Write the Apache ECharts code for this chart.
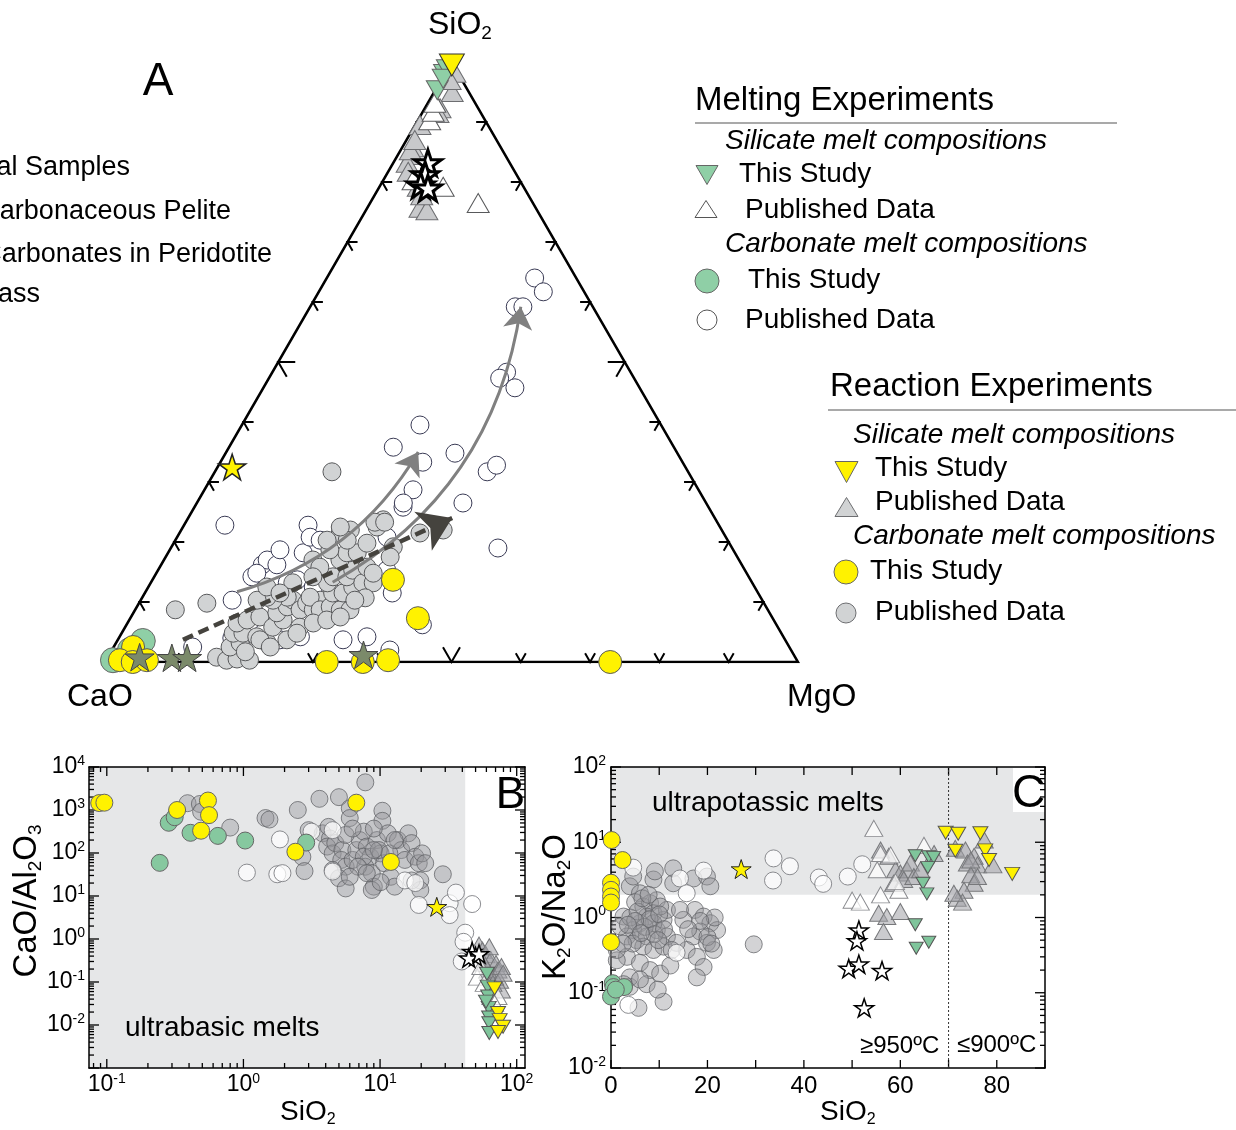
<!DOCTYPE html>
<html>
<head>
<meta charset="utf-8">
<title>Melt compositions</title>
<script src="https://cdn.jsdelivr.net/npm/echarts@6.0.0/dist/echarts.min.js"></script>
<style>
  html, body { margin: 0; padding: 0; background: #ffffff; }
  #chart { width: 1236px; height: 1130px; }
</style>
</head>
<body>
<div id="chart"></div>
<script>
// ===== Panel A: SiO2–CaO–MgO ternary, every point is [SiO2, CaO, MgO] (wt%) =====
// Melting experiments, carbonate melts, published data (open circles)
const ternMeltCarbPublished = [
  [22.8,71.3,5.9],[10.3,76.5,13.2],[4.0,79.7,16.3],[4.2,78.0,17.8],[14.2,71.7,14.1],[16.2,69.2,14.6],[17.0,68.1,14.9],[16.2,67.1,16.7],[18.7,65.4,15.9],[14.8,70.7,14.5],
  [13.2,67.1,19.7],[13.7,65.4,20.9],[18.2,62.3,19.5],[22.8,59.3,17.9],[20.8,60.0,19.2],[12.5,63.7,23.8],[4.8,74.8,20.4],[4.2,69.7,26.1],[3.7,63.8,32.5],[4.2,60.1,35.7],
  [2.0,57.9,40.1],[20.8,48.9,30.3],[15.3,51.7,33.0],[25.8,44.1,30.1],[11.5,52.8,35.7],[6.2,51.1,42.7],[2.5,86.1,11.4],[64.0,6.0,30.0],[61.7,5.9,32.4],[59.2,11.2,29.6],
  [59.2,10.1,30.7],[48.3,17.9,33.8],[47.3,19.4,33.3],[45.7,18.0,36.3],[39.5,34.8,25.7],[35.8,40.5,23.7],[33.3,37.5,29.2],[34.8,32.1,33.1],[31.7,29.0,39.3],[32.8,27.1,40.1],
  [28.7,41.2,30.1],[26.5,43.7,29.8],[26.5,35.1,38.4],[19.0,33.8,47.2],[3.7,72.9,23.4],[20.3,58.8,20.9]
];
// Reaction experiments, carbonate melts, published data (grey circles)
const ternRxnCarbPublished = [
  [8.7,85.5,5.8],[9.8,80.4,9.8],[0.8,83.5,15.7],[0.3,82.3,17.4],[0.5,80.7,18.8],[2.5,80.7,16.8],[3.2,78.9,17.9],[4.8,79.1,16.1],[4.8,77.7,17.5],[6.5,77.7,15.8],
  [7.0,76.0,17.0],[7.5,73.9,18.6],[4.2,76.0,19.8],[3.2,75.0,21.8],[5.8,72.9,21.3],[7.0,70.8,22.2],[8.2,71.1,20.7],[9.2,69.1,21.7],[10.3,67.7,22.0],[8.7,67.5,23.8],
  [9.8,66.0,24.2],[8.7,65.6,25.7],[10.3,63.8,25.9],[5.8,69.0,25.2],[10.8,65.0,24.2],[8.7,64.6,26.7],[9.2,62.9,27.9],[8.7,61.7,29.6],[8.7,60.3,31.0],[11.5,61.4,27.1],
  [11.5,59.9,28.6],[12.5,58.0,29.5],[13.2,61.3,25.5],[14.2,60.0,25.8],[14.2,58.0,27.8],[15.3,56.6,28.1],[13.2,56.2,30.6],[13.2,54.7,32.1],[15.8,54.3,29.9],[17.0,57.6,25.4],
  [18.2,56.0,25.8],[18.2,54.5,27.3],[18.7,58.2,23.1],[21.5,55.3,23.2],[22.0,53.6,24.4],[20.3,57.8,21.9],[19.8,52.3,27.9],[22.5,49.5,28.0],[23.7,48.0,28.3],[19.2,48.8,32.0],
  [17.5,50.1,32.4],[17.0,61.5,21.5],[15.8,61.1,23.1],[14.2,62.9,22.9],[13.2,66.3,20.5],[10.8,68.3,20.9],[10.3,70.6,19.1],[10.8,71.2,18.0],[10.3,72.9,16.8],[12.5,70.4,17.1],
  [11.5,69.0,19.5],[3.7,75.8,20.5],[2.5,74.9,22.6],[3.7,71.9,24.4],[4.8,69.9,25.3],[6.5,66.7,26.8],[7.0,64.5,28.5],[7.5,62.3,30.2],[14.8,53.9,31.3],[22.0,40.2,37.8],
  [21.5,43.8,34.7],[20.3,54.9,24.8],[31.7,51.4,16.9],[22.5,54.8,22.7],[23.3,49.4,27.3],[23.3,48.0,28.7],[0.3,79.0,20.7],[1.7,78.9,19.4],[10.7,57.1,32.2],[10.3,58.8,30.9]
];
// Reaction experiments, carbonate melts, this study (yellow circles)
const ternRxnCarbThisStudy = [
  [2.5,94.7,2.8],[0.3,97.7,2.0],[0.0,96.0,4.0],[0.3,93.8,5.9],[13.7,51.6,34.7],[7.3,51.2,41.5],[0.0,68.0,32.0],[0.0,62.8,37.2],[0.3,59.0,40.7],[0.0,27.1,72.9]
];
// Melting experiments, carbonate melts, this study (green circles)
const ternMeltCarbThisStudy = [[0.3,98.7,1.0],[3.5,92.8,3.7],[2.0,95.4,2.6]];
// Silicate melts near the SiO2 apex
const ternRxnSilPublished = [
  [99.0,0.8,0.2],[98.2,0.4,1.4],[95.0,2.4,2.6],[92.3,5.5,2.2],[89.5,9.8,0.7],[85.8,12.7,1.5],[84.5,13.5,2.0],[83.2,14.8,2.0],[81.7,15.4,2.9],
  [79.2,15.2,5.6],[75.8,16.2,8.0],[75.7,16.7,7.6],[75.3,15.9,8.8],[91.5,6.2,2.3],[97.0,1.7,1.3],[85.3,13.3,1.4],[77.8,15.4,6.8],[87.0,11.8,1.2]
];
const ternMeltSilPublished = [[90.3,8.0,1.7],[91.7,6.8,1.5],[93.2,5.8,1.0],[79.2,11.6,9.2],[76.5,7.9,15.6],[80.3,15.4,4.3]];
const ternMeltSilThisStudy = [[95.3,4.4,0.3],[98.0,2.0,0.0],[98.8,1.2,0.0],[97.2,2.6,0.2]];
const ternRxnSilThisStudy = [[99.5,0.2,0.3]];
// Natural samples
const ternPelite = [[83.2,11.8,5.0],[81.2,13.2,5.6],[79.5,14.7,5.8],[79.0,13.9,7.1]];
const ternPeridotite = [[0.8,94.6,4.6],[0.7,90.0,9.3],[0.7,87.8,11.5],[1.2,62.1,36.7]];
const ternGlass = [[32.5,65.4,2.1]];
// Trend arrows (start, tip) in [SiO2, CaO, MgO]
const trendSolidA = [[11.7,75.1,13.2],[35.0,37.3,27.7]];
const trendSolidB = [[13.3,60.5,26.2],[59.2,10.4,30.4]];
const trendDashed = [[3.7,86.9,9.4],[24.0,37.9,38.1]];
const ternTickSteps = [10,20,30,40,50,60,70,80,90];

// ===== Panel B: CaO/Al2O3 vs SiO2 (log–log), points are [SiO2, CaO/Al2O3] =====
const bRxnCarbPublished = [
  [7.8,4400],[3.6,1820],[5.0,1990],[6.0,1100],[6.0,650],[2.5,1000],[1.45,650],[1.55,600],[0.39,1440],[0.48,1380],[0.49,910],[0.8,390],[10.4,960],[10.4,560],
  [28.8,32],[2.7,81],[2.8,38],[3.8,287],[4.3,218],[4.1,141],[4.5,98],[4.7,170],[5.3,117],[5.2,69],[5.6,48],[5.0,26],[5.6,15],[6.3,69],[6.7,117],[7.1,200],
  [7.6,314],[8.0,141],[8.5,82],[7.8,48],[8.7,34],[9.0,16.5],[8.7,13.8],[9.5,200],[10.1,98],[10.7,58],[11.4,287],[12.0,28],[12.8,16.5],[13.5,200],[14.3,117],
  [15.2,69],[16.1,287],[17.0,170],[18.1,82],[19.2,58],[20.3,98],[21.4,58],[19.7,23],[19.7,13.8],[17.0,23],[5.6,263],[6.3,370],[9.0,370],[9.8,117],[7.6,82],
  [6.9,48],[11.7,98],[12.8,200],[4.5,40],[6.0,28],[10.1,21],[3.0,340],[4.2,405],[9.0,117],[8.0,34]
];
const bMeltCarbPublished = [
  [1.06,35],[1.77,32],[1.93,34],[1.85,207],[3.15,314],[4.5,340],[19.2,6.2],[32.3,6.8],[35.9,12],[32.3,3.6],[47.2,6.5],[42,1.4],[40.8,0.86],[39.6,0.30],
  [4.5,37],[15.2,23],[18.1,20]
];
const bRxnCarbThisStudy = [[0.088,1450],[0.096,1480],[0.327,1000],[0.55,1660],[0.56,760],[0.49,330],[2.4,107],[6.7,1480],[12.0,62]];
const bMeltCarbThisStudy = [[0.244,59],[0.284,505],[0.314,680],[0.41,295],[0.65,250],[1.03,195],[2.88,175]];
const bGlass = [[26,5.6]];
const bPelite = [[47.2,0.51],[50,0.39],[44.6,0.36],[53,0.45]];
const bRxnSilPublished = [[53,0.72],[56.2,0.55],[59.6,0.43],[64.7,0.33],[70.5,0.27],[73,0.19],[75,0.11],[77.3,0.065],[68.9,0.13],[61.3,0.19],[57.8,0.27],[67,0.093],[77.3,0.23],[79.5,0.16],[63,0.66]];
const bMeltSilPublished = [[51.5,0.13],[57.8,0.093],[64.7,0.046],[54.6,0.23],[73,0.046],[68.9,0.032]];
const bMeltSilThisStudy = [[60.6,0.155],[61.3,0.078],[61.8,0.046],[62.4,0.025],[62.8,0.015],[63,0.011],[63,0.0065],[59.6,0.035]];
const bRxnSilThisStudy = [[68.9,0.071],[73,0.019],[75,0.013],[79.5,0.0091],[73,0.0069]];
const bSiO2Range = [0.0741, 115];
const bRatioRange = [0.001, 10000];
const bHiddenExponents = [-3];
const ultrabasicMaxSiO2 = 42;

// ===== Panel C: K2O/Na2O vs SiO2, points are [SiO2, K2O/Na2O] =====
const cRxnCarbPublished = [
  [3.9,2.6],[6.0,2.1],[5.0,1.6],[6.7,1.4],[8.1,1.55],[9.5,1.7],[8.8,1.14],[7.4,1.03],[6.0,0.84],[4.6,0.68],[3.3,0.56],[5.3,0.50],[7.4,0.56],[9.5,0.68],
  [10.9,0.93],[11.6,1.26],[10.2,1.4],[8.8,0.84],[6.7,0.41],[8.8,0.37],[10.9,0.41],[11.6,0.56],[3.3,0.30],[1.2,0.27],[1.2,0.37],[6.0,0.25],[8.1,0.20],
  [10.2,0.18],[7.4,0.13],[3.9,0.12],[5.7,0.063],[10.9,0.076],[12.3,0.23],[8.8,3.2],[9.1,4.1],[12.9,4.5],[17.1,3.3],[19.9,3.5],[20.6,2.6],[17.4,1.26],
  [19.2,1.03],[20.6,0.84],[22.0,0.68],[18.5,0.65],[17.1,0.56],[19.9,0.46],[21.3,0.37],[15.7,0.37],[17.8,0.30],[19.2,0.22],[15.0,0.93],[14.3,1.26],[13.6,0.46],
  [12.6,0.37],[17.8,0.16],[29.6,0.44],[2.6,1.03],[1.9,0.76],[3.9,0.16],[2.6,0.13],[6.0,0.15],[9.7,0.11],[12.9,2.85],[4.6,3.5],
  [4.0,1.0],[5.5,1.2],[7.0,0.75],[8.0,0.95],[9.0,0.6],[6.5,1.8],[7.8,2.0],[5.0,0.9],[3.5,0.8],[10.0,1.1],[11.0,0.7],[4.5,0.45],[6.2,0.62],[2.5,0.45],
  [9.8,0.5],[20.0,0.55],[21.5,1.0],[18.5,0.9],[16.0,0.7],[20.8,0.45]
];
const cMeltCarbPublished = [[4.6,4.6],[14.3,3.3],[19.2,4.2],[33.7,6.1],[33.6,3.1],[37.1,4.8],[43.1,3.4],[44.0,2.8],[49.1,3.5],[52.1,5.1],[3.6,0.069],[15.7,2.1],[13.6,0.34]];
const cRxnCarbThisStudy = [[0.14,10.7],[2.4,5.8],[0,2.9],[0,2.33],[0,1.9],[0,1.58],[0,0.47]];
const cMeltCarbThisStudy = [[0.35,0.134],[0.5,0.119],[2.7,0.119],[0,0.089],[1.0,0.11]];
const cGlass = [[27.0,4.4]];
const cPelite = [[51.4,0.68],[51.0,0.49],[49.3,0.21],[51.4,0.24],[56.2,0.197],[52.5,0.063]];
const cRxnSilPublished = [
  [55.9,7.9],[57.6,6.5],[59.0,4.3],[60.0,3.9],[61.4,4.3],[62.1,5.3],[60.7,3.2],[62.8,3.5],[64.2,4.3],[58.6,2.85],[55.5,1.14],[57.2,1.03],[56.5,0.65],[60.0,1.2],[67,7.1],
  [71.4,8.3],[73.5,7.9],[75.3,6.5],[73.9,5.3],[76.0,5.0],[77.4,10.7],[79.2,5.0],[74.6,3.7],[75.3,2.85],[73.2,2.3],[71.8,1.8],[72.9,1.6],[76.0,3.5],[74.6,5.8],[71.1,2.1]
];
const cMeltSilPublished = [[54.5,15.3],[55.9,7.1],[58.0,6.8],[64.9,9.1],[59.7,2.3],[50.0,1.7],[51.7,1.6],[55.9,2.0],[59.0,3.0],[55.2,4.3]];
const cMeltSilThisStudy = [[63.1,6.6],[65.9,6.4],[66.9,6.3],[65.7,4.6],[64.7,2.85],[65.5,2.06],[63.1,0.8],[63.3,0.39],[65.9,0.47]];
const cRxnSilThisStudy = [[69.4,13.4],[72,13],[76.6,13.2],[71.4,7.7],[77.6,7.8],[78.4,5.8],[83.2,3.8]];
const cSiO2Range = [0, 90];
const cSiO2Step = 10;
const cSiO2LabelStep = 20;
const cRatioRange = [0.01, 100];
const ultrapotassicMinRatio = 2;
const temperatureSplitSiO2 = 70;

// ===== helpers =====
const FONT = '"Liberation Sans", Arial, Helvetica, sans-serif';
const SQ3 = Math.sqrt(3) / 2;
const STAR = 'path://M50,0 L61.2,34.5 L97.6,34.5 L68.2,55.9 L79.4,90.5 L50,69.1 L20.6,90.5 L31.8,55.9 L2.4,34.5 L38.8,34.5 Z';

// [SiO2, CaO, MgO] -> cartesian position inside the unit triangle (CaO left, MgO right, SiO2 top)
function tern(p) {
  const t = p[0] + p[1] + p[2];
  return [(p[2] + p[0] / 2) / t, (p[0] / t) * SQ3];
}

function scatter(data, xi, yi, symbol, size, fill, stroke, extra) {
  return Object.assign({
    type: 'scatter', xAxisIndex: xi, yAxisIndex: yi, data: data,
    symbol: symbol, symbolSize: size, symbolKeepAspect: true,
    itemStyle: { color: fill, borderColor: stroke, borderWidth: 1, opacity: 1 },
    z: 3, silent: true, animation: false
  }, extra || {});
}

function powLabel(v, hidden) {
  const l = Math.log10(v);
  const e = Math.round(l);
  if (Math.abs(l - e) > 1e-6) return '';
  if (hidden && hidden.indexOf(e) >= 0) return '';
  return '{b|10}{s|' + e + '}';
}
const supRich = {
  b: { fontSize: 23, fontFamily: FONT, color: '#000', lineHeight: 26 },
  s: { fontSize: 14, fontFamily: FONT, color: '#000', verticalAlign: 'top', lineHeight: 15 }
};

// ticks on log/linear frames (major + minor, mirrored on all sides)
function logValues(lo, hi) {
  const out = [];
  for (let e = Math.floor(Math.log10(lo)); e <= Math.ceil(Math.log10(hi)); e++) {
    for (let k = 1; k <= 9; k++) {
      const v = k * Math.pow(10, e);
      if (v >= lo * 0.9999 && v <= hi * 1.0001) out.push([v, k === 1]);
    }
  }
  return out;
}
function frameTicks(xs, ys, xr, yr, xLen, yLen) {
  const d = [];
  xs.forEach(([v, major]) => {
    const L = major ? xLen[0] : xLen[1];
    d.push([v, yr[0], 0, L]);
    d.push([v, yr[1], 1, L]);
  });
  ys.forEach(([v, major]) => {
    const L = major ? yLen[0] : yLen[1];
    d.push([xr[0], v, 2, L]);
    d.push([xr[1], v, 3, L]);
  });
  return d;
}
function tickSeries(data, xi, yi) {
  return {
    type: 'custom', xAxisIndex: xi, yAxisIndex: yi, data: data, z: 2, silent: true, clip: false,
    encode: { x: 0, y: 1 },
    renderItem: function (params, api) {
      const p = api.coord([api.value(0), api.value(1)]);
      const dir = api.value(2), L = api.value(3);
      const dx = [0, 0, 1, -1][dir], dy = [-1, 1, 0, 0][dir];
      return { type: 'line', shape: { x1: p[0], y1: p[1], x2: p[0] + dx * L, y2: p[1] + dy * L },
               style: { stroke: '#000', lineWidth: 1.3 } };
    }
  };
}
function shadeSeries(rect, xi, yi) {
  return {
    type: 'custom', xAxisIndex: xi, yAxisIndex: yi, data: [rect], z: 1, silent: true,
    encode: { x: [0, 2], y: [1, 3] },
    renderItem: function (params, api) {
      const a = api.coord([api.value(0), api.value(1)]);
      const b = api.coord([api.value(2), api.value(3)]);
      return { type: 'rect', shape: { x: Math.min(a[0], b[0]), y: Math.min(a[1], b[1]),
               width: Math.abs(b[0] - a[0]), height: Math.abs(b[1] - a[1]) },
               style: { fill: '#e6e7e8' } };
    }
  };
}

// ternary edge ticks: chevrons whose vertex sits on the edge, opening inward
const ternTickData = [];
ternTickSteps.forEach(t => {
  const L = t === 50 ? 17 : 10;
  ternTickData.push(tern([0, 100 - t, t]).concat([-90, L]));   // CaO–MgO base
  ternTickData.push(tern([t, 100 - t, 0]).concat([30, L]));    // CaO–SiO2 side
  ternTickData.push(tern([t, 0, 100 - t]).concat([150, L]));   // SiO2–MgO side
});

const bTicks = frameTicks(logValues(bSiO2Range[0], bSiO2Range[1]), logValues(bRatioRange[0], bRatioRange[1]),
                          bSiO2Range, bRatioRange, [9, 5], [10, 5]);
const cXTicks = [];
for (let v = cSiO2Range[0]; v <= cSiO2Range[1]; v += cSiO2Step) cXTicks.push([v, true]);
const cTicks = frameTicks(cXTicks, logValues(cRatioRange[0], cRatioRange[1]), cSiO2Range, cRatioRange, [8, 8], [10, 5]);

const frameLine = { show: true, onZero: false, lineStyle: { color: '#000', width: 1.5 } };
const noAxisExtras = { axisTick: { show: false }, minorTick: { show: false }, splitLine: { show: false }, minorSplitLine: { show: false } };

function arrowLine(path, color, width, size, curveness, dashed) {
  return {
    type: 'lines', coordinateSystem: 'cartesian2d', xAxisIndex: 0, yAxisIndex: 0, z: 4, silent: true,
    symbol: ['none', 'arrow'], symbolSize: size,
    lineStyle: { color: color, width: width, opacity: 1, curveness: curveness, type: dashed ? [11, 6] : 'solid' },
    itemStyle: { color: color },
    data: [{ coords: path.map(tern) }]
  };
}

// ===== text / legend helpers =====
function txt(text, x, y, size, opt) {
  opt = opt || {};
  return {
    type: 'text', x: x, y: y, z: 20, silent: true, rotation: opt.rotation || 0,
    style: {
      text: text, font: (opt.italic ? 'italic ' : '') + size + 'px ' + FONT, fill: '#000',
      textAlign: opt.align || 'left', align: opt.align || 'left',
      textVerticalAlign: 'middle', verticalAlign: 'middle'
    }
  };
}
function subTxt(parts, x, y, size, opt) {
  opt = opt || {};
  const s = Math.round(size * 0.58);
  const text = parts.map(p => (p[1] ? '{s|' : '{m|') + p[0] + '}').join('');
  return {
    type: 'text', x: x, y: y, z: 20, silent: true, rotation: opt.rotation || 0,
    style: {
      text: text, textAlign: opt.align || 'left', align: opt.align || 'left',
      textVerticalAlign: 'middle', verticalAlign: 'middle',
      rich: {
        m: { fontSize: size, fontFamily: FONT, fill: '#000', color: '#000', lineHeight: Math.round(size * 1.12) },
        s: { fontSize: s, fontFamily: FONT, fill: '#000', color: '#000', lineHeight: s, verticalAlign: 'bottom' }
      }
    }
  };
}
function tri(cx, cy, w, h, down, fill, stroke) {
  const pts = down ? [[cx - w / 2, cy - h / 2], [cx + w / 2, cy - h / 2], [cx, cy + h / 2]]
                   : [[cx - w / 2, cy + h / 2], [cx + w / 2, cy + h / 2], [cx, cy - h / 2]];
  return { type: 'polygon', z: 20, silent: true, shape: { points: pts }, style: { fill: fill, stroke: stroke, lineWidth: 1 } };
}
function dot(cx, cy, r, fill, stroke) {
  return { type: 'circle', z: 20, silent: true, shape: { cx: cx, cy: cy, r: r }, style: { fill: fill, stroke: stroke, lineWidth: 1 } };
}
function rule(x1, x2, y) {
  return { type: 'line', z: 20, silent: true, shape: { x1: x1, y1: y, x2: x2, y2: y }, style: { stroke: '#555', lineWidth: 1.2 } };
}

const GREEN = '#8fcfa6', YELLOW = '#fff200', GREY = '#d1d3d4';

const graphics = [
  txt('A', 158, 82, 46, { align: 'center' }),
  subTxt([['SiO', 0], ['2', 1]], 428, 25, 32),
  txt('CaO', 67, 697, 32),
  txt('MgO', 787, 697, 32),
  // symbol key for natural samples
  txt('Natural Samples', 130, 168, 27, { align: 'right' }),
  txt('Carbonaceous Pelite', 231, 212, 27, { align: 'right' }),
  txt('Carbonates in Peridotite', 272, 255, 27, { align: 'right' }),
  txt('Glass', 40, 295, 27, { align: 'right' }),
  // melting experiments key
  txt('Melting Experiments', 695, 101, 33),
  rule(695, 1117, 123),
  txt('Silicate melt compositions', 725, 141, 28, { italic: true }),
  tri(707, 175, 22, 19, true, GREEN, '#666'),
  txt('This Study', 739, 174, 28),
  tri(706, 209, 22, 17, false, '#fff', '#555'),
  txt('Published Data', 745, 210, 28),
  txt('Carbonate melt compositions', 725, 244, 28, { italic: true }),
  dot(707, 281, 12, GREEN, '#666'),
  txt('This Study', 748, 280, 28),
  dot(707, 320, 10, '#fff', '#555'),
  txt('Published Data', 745, 320, 28),
  // reaction experiments key
  txt('Reaction Experiments', 830, 387, 33),
  rule(828, 1236, 410),
  txt('Silicate melt compositions', 853, 435, 28, { italic: true }),
  tri(846.5, 472, 23, 21, true, YELLOW, '#666'),
  txt('This Study', 875, 468, 28),
  tri(846.5, 507, 23, 19, false, GREY, '#6d6e71'),
  txt('Published Data', 875, 502, 28),
  txt('Carbonate melt compositions', 853, 536, 28, { italic: true }),
  dot(846, 572, 12, YELLOW, '#666'),
  txt('This Study', 870, 571, 28),
  dot(846, 613, 10, GREY, '#6d6e71'),
  txt('Published Data', 875, 612, 28),
  // panel B annotations
  txt('B', 525, 796, 44, { align: 'right' }),
  txt('ultrabasic melts', 125, 1028, 28),
  subTxt([['CaO/Al', 0], ['2', 1], ['O', 0], ['3', 1]], 27, 901, 33, { align: 'center', rotation: Math.PI / 2 }),
  subTxt([['SiO', 0], ['2', 1]], 280, 1112, 28),
  // panel C annotations
  { type: 'rect', z: 1.5, silent: true, shape: { x: 1013, y: 768, width: 32, height: 44 }, style: { fill: '#fff' } },
  txt('C', 1012, 794, 46),
  txt('ultrapotassic melts', 652, 803, 28),
  txt('\u2265950\u00baC', 860, 1046, 24),
  txt('\u2264900\u00baC', 957, 1045, 24),
  subTxt([['K', 0], ['2', 1], ['O/Na', 0], ['2', 1], ['O', 0]], 556, 907, 33, { align: 'center', rotation: Math.PI / 2 }),
  subTxt([['SiO', 0], ['2', 1]], 820, 1112, 28)
];

const option = {
  animation: false,
  backgroundColor: '#ffffff',
  textStyle: { fontFamily: FONT },
  grid: [
    { left: 105, top: 62, width: 693, height: 600 },
    { left: 89, top: 767, width: 436, height: 301 },
    { left: 611, top: 767, width: 434, height: 301 }
  ],
  xAxis: [
    { gridIndex: 0, type: 'value', min: 0, max: 1, show: false },
    Object.assign({ gridIndex: 1, type: 'log', logBase: 10, min: bSiO2Range[0], max: bSiO2Range[1], position: 'bottom', z: 2,
      axisLine: frameLine,
      axisLabel: { margin: 4, interval: 0, showMinLabel: true, showMaxLabel: true, formatter: v => powLabel(v), rich: supRich } }, noAxisExtras),
    Object.assign({ gridIndex: 1, type: 'log', logBase: 10, min: bSiO2Range[0], max: bSiO2Range[1], position: 'top', z: 2,
      axisLine: frameLine, axisLabel: { show: false } }, noAxisExtras),
    Object.assign({ gridIndex: 2, type: 'value', min: cSiO2Range[0], max: cSiO2Range[1], interval: cSiO2Step, position: 'bottom', z: 2,
      axisLine: frameLine,
      axisLabel: { margin: 6, fontSize: 24, color: '#000', fontFamily: FONT, formatter: v => (v % cSiO2LabelStep === 0 && v < cSiO2Range[1]) ? String(v) : '' } }, noAxisExtras),
    Object.assign({ gridIndex: 2, type: 'value', min: cSiO2Range[0], max: cSiO2Range[1], interval: cSiO2Step, position: 'top', z: 2,
      axisLine: frameLine, axisLabel: { show: false } }, noAxisExtras)
  ],
  yAxis: [
    { gridIndex: 0, type: 'value', min: 0, max: SQ3, show: false },
    Object.assign({ gridIndex: 1, type: 'log', logBase: 10, min: bRatioRange[0], max: bRatioRange[1], position: 'left', z: 2,
      axisLine: frameLine,
      axisLabel: { margin: 4, interval: 0, showMinLabel: true, showMaxLabel: true, formatter: v => powLabel(v, bHiddenExponents), rich: supRich } }, noAxisExtras),
    Object.assign({ gridIndex: 1, type: 'log', logBase: 10, min: bRatioRange[0], max: bRatioRange[1], position: 'right', z: 2,
      axisLine: frameLine, axisLabel: { show: false } }, noAxisExtras),
    Object.assign({ gridIndex: 2, type: 'log', logBase: 10, min: cRatioRange[0], max: cRatioRange[1], position: 'left', z: 2,
      axisLine: frameLine,
      axisLabel: { margin: 5, interval: 0, showMinLabel: true, showMaxLabel: true, formatter: v => powLabel(v), rich: supRich } }, noAxisExtras),
    Object.assign({ gridIndex: 2, type: 'log', logBase: 10, min: cRatioRange[0], max: cRatioRange[1], position: 'right', z: 2,
      axisLine: frameLine, axisLabel: { show: false } }, noAxisExtras)
  ],
  series: [
    // ----- ternary frame and ticks -----
    { type: 'line', xAxisIndex: 0, yAxisIndex: 0, z: 2, silent: true, symbol: 'none',
      data: [[0, 100, 0], [0, 0, 100], [100, 0, 0], [0, 100, 0]].map(tern),
      lineStyle: { color: '#000', width: 2.5, join: 'miter' } },
    { type: 'custom', xAxisIndex: 0, yAxisIndex: 0, data: ternTickData, z: 2, silent: true, clip: false,
      encode: { x: 0, y: 1 },
      renderItem: function (params, api) {
        const p = api.coord([api.value(0), api.value(1)]);
        const a = api.value(2) * Math.PI / 180, L = api.value(3);
        const a1 = a - Math.PI / 6, a2 = a + Math.PI / 6;
        return { type: 'polyline', shape: { points: [[p[0] + L * Math.cos(a1), p[1] + L * Math.sin(a1)], p,
                 [p[0] + L * Math.cos(a2), p[1] + L * Math.sin(a2)]] },
                 style: { stroke: '#000', lineWidth: 2, fill: null } };
      } },
    // ----- ternary data -----
    scatter(ternMeltCarbPublished.map(tern), 0, 0, 'circle', 18, '#ffffff', '#3a3b55'),
    scatter(ternRxnCarbPublished.map(tern), 0, 0, 'circle', 18, GREY, '#58595b'),
    scatter(ternMeltCarbThisStudy.map(tern), 0, 0, 'circle', 25, GREEN, '#666'),
    scatter(ternRxnCarbThisStudy.map(tern), 0, 0, 'circle', 23, YELLOW, '#58595b'),
    scatter(ternRxnSilPublished.map(tern), 0, 0, 'triangle', [22, 19], '#c8c9cb', '#6d6e71'),
    scatter(ternMeltSilPublished.map(tern), 0, 0, 'triangle', [22, 19], '#ffffff', '#58595b'),
    scatter(ternMeltSilThisStudy.map(tern), 0, 0, 'triangle', [22, 19], GREEN, '#666', { symbolRotate: 180 }),
    scatter(ternRxnSilThisStudy.map(tern), 0, 0, 'triangle', [25, 22], YELLOW, '#333', { symbolRotate: 180 }),
    scatter(ternPeridotite.map(tern), 0, 0, STAR, 29, '#7b8a6a', '#444'),
    scatter(ternGlass.map(tern), 0, 0, STAR, 27, YELLOW, '#222', { itemStyle: { color: YELLOW, borderColor: '#222', borderWidth: 1.5, opacity: 1 } }),
    scatter(ternPelite.map(tern), 0, 0, STAR, 27, '#ffffff', '#000', { itemStyle: { color: '#fff', borderColor: '#000', borderWidth: 3, opacity: 1 } }),
    arrowLine(trendSolidA, '#808080', 3, 22, -0.2, false),
    arrowLine(trendSolidB, '#808080', 3, 22, -0.245, false),
    arrowLine(trendDashed, '#45433e', 4.5, 32, 0, true),

    // ----- panel B -----
    shadeSeries([bSiO2Range[0], bRatioRange[0], ultrabasicMaxSiO2, bRatioRange[1]], 1, 1),
    tickSeries(bTicks, 1, 1),
    scatter(bRxnCarbPublished, 1, 1, 'circle', 17, 'rgba(150,151,156,0.42)', 'rgba(95,96,100,0.75)'),
    scatter(bMeltCarbPublished, 1, 1, 'circle', 17, 'rgba(255,255,255,0.72)', 'rgba(120,121,126,0.85)'),
    scatter(bMeltCarbThisStudy, 1, 1, 'circle', 17, '#86c89f', '#666'),
    scatter(bRxnCarbThisStudy, 1, 1, 'circle', 17, YELLOW, '#666'),
    scatter(bRxnSilPublished, 1, 1, 'triangle', [18, 16], 'rgba(160,161,165,0.55)', '#77787b'),
    scatter(bMeltSilPublished, 1, 1, 'triangle', [18, 16], 'rgba(255,255,255,0.7)', '#8a8b8f'),
    scatter(bMeltSilThisStudy, 1, 1, 'triangle', [15, 13], '#7fc59b', '#555', { symbolRotate: 180 }),
    scatter(bRxnSilThisStudy, 1, 1, 'triangle', [15, 13], YELLOW, '#555', { symbolRotate: 180 }),
    scatter(bPelite, 1, 1, STAR, 19, '#ffffff', '#000', { itemStyle: { color: '#fff', borderColor: '#000', borderWidth: 1.5, opacity: 1 } }),
    scatter(bGlass, 1, 1, STAR, 20, YELLOW, '#222'),

    // ----- panel C -----
    shadeSeries([cSiO2Range[0], ultrapotassicMinRatio, cSiO2Range[1], cRatioRange[1]], 3, 3),
    tickSeries(cTicks, 3, 3),
    { type: 'line', xAxisIndex: 3, yAxisIndex: 3, z: 2, silent: true, symbol: 'none',
      data: [[temperatureSplitSiO2, cRatioRange[0]], [temperatureSplitSiO2, cRatioRange[1]]],
      lineStyle: { color: '#333', width: 1, type: [2, 2] } },
    scatter(cRxnCarbPublished, 3, 3, 'circle', 17, 'rgba(150,151,156,0.42)', 'rgba(95,96,100,0.75)'),
    scatter(cMeltCarbPublished, 3, 3, 'circle', 17, 'rgba(255,255,255,0.72)', 'rgba(120,121,126,0.85)'),
    scatter(cMeltCarbThisStudy, 3, 3, 'circle', 17, '#86c89f', '#666'),
    scatter(cRxnCarbThisStudy, 3, 3, 'circle', 17, YELLOW, '#666'),
    scatter(cRxnSilPublished, 3, 3, 'triangle', [18, 16], 'rgba(160,161,165,0.55)', '#77787b'),
    scatter(cMeltSilPublished, 3, 3, 'triangle', [18, 16], 'rgba(255,255,255,0.7)', '#8a8b8f'),
    scatter(cMeltSilThisStudy, 3, 3, 'triangle', [14, 12], '#7fc59b', '#555', { symbolRotate: 180 }),
    scatter(cRxnSilThisStudy, 3, 3, 'triangle', [15, 13], YELLOW, '#555', { symbolRotate: 180 }),
    scatter(cPelite, 3, 3, STAR, 19, '#ffffff', '#000', { itemStyle: { color: '#fff', borderColor: '#000', borderWidth: 1.5, opacity: 1 } }),
    scatter(cGlass, 3, 3, STAR, 20, YELLOW, '#222')
  ],
  graphic: graphics
};

const chart = echarts.init(document.getElementById('chart'), null, { renderer: 'canvas' });
chart.setOption(option);
</script>
</body>
</html>
